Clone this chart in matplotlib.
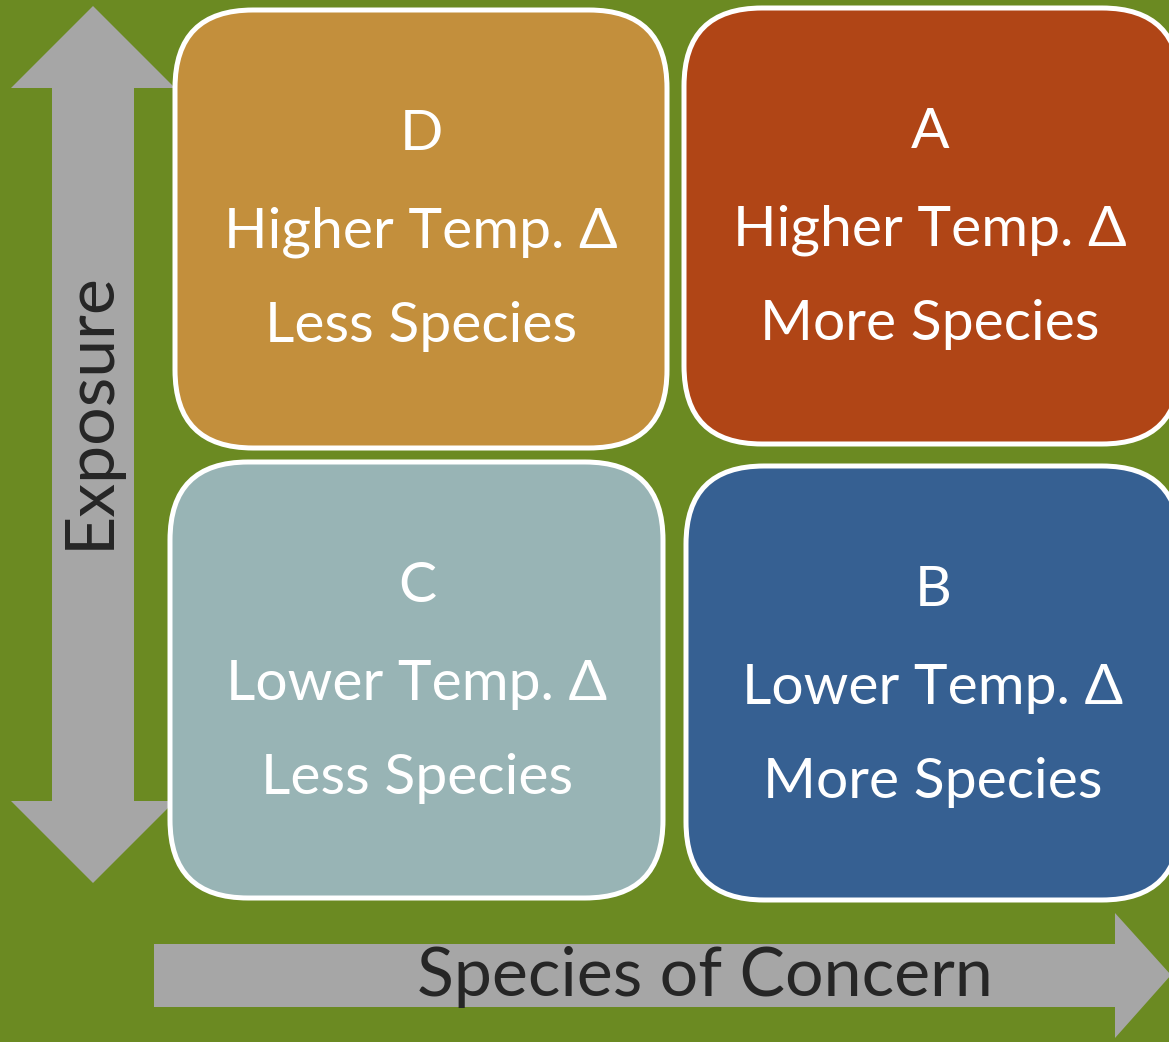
import matplotlib.pyplot as plt
from matplotlib.patches import FancyBboxPatch, Polygon

# quadrant data
letters = ['D', 'A', 'C', 'B']
temp_labels = ['Higher Temp. Δ', 'Higher Temp. Δ', 'Lower Temp. Δ', 'Lower Temp. Δ']
species_labels = ['Less Species', 'More Species', 'Less Species', 'More Species']
box_colors = ['#C38F3C', '#B04516', '#98B4B5', '#366092']
# box extents in pixels: x0, y0, x1, y1
box_x0 = [175, 684, 170, 686]
box_y0 = [10, 8, 462, 466]
box_x1 = [667, 1180, 663, 1180]
box_y1 = [448, 444, 898, 900]
# text centres
text_cx = [421, 930, 417, 933]

y_axis_label = 'Exposure'
x_axis_label = 'Species of Concern'

W, H = 1169, 1042
fig = plt.figure(figsize=(W / 100, H / 100), dpi=100)
fig.patch.set_facecolor('#6B8A22')
ax = fig.add_axes([0, 0, 1, 1])
ax.set_xlim(0, W)
ax.set_ylim(H, 0)
ax.axis('off')

gray = '#A6A6A6'
font = ['Lato', 'DejaVu Sans']

# vertical double arrow
vert = [(93, 6), (175, 88), (134, 88), (134, 801), (175, 801), (93, 883),
        (11, 801), (52, 801), (52, 88), (11, 88)]
ax.add_patch(Polygon(vert, closed=True, facecolor=gray, edgecolor='none', zorder=1))

# horizontal arrow
horiz = [(154, 944), (1115, 944), (1115, 913), (1171, 975), (1115, 1038),
         (1115, 1007), (154, 1007)]
ax.add_patch(Polygon(horiz, closed=True, facecolor=gray, edgecolor='none', zorder=1))

for i in range(4):
    x0, y0, x1, y1 = box_x0[i], box_y0[i], box_x1[i], box_y1[i]
    box = FancyBboxPatch((x0, y0), x1 - x0, y1 - y0,
                         boxstyle='round,pad=0,rounding_size=78',
                         facecolor=box_colors[i], edgecolor='white', linewidth=3.6, zorder=2)
    ax.add_patch(box)
    cx = text_cx[i]
    ax.text(cx, y0 + 125, letters[i], color='white', fontsize=41, ha='center', va='center',
            family=font, zorder=3)
    ax.text(cx, y0 + 222, temp_labels[i], color='white', fontsize=41, ha='center', va='center',
            family=font, zorder=3)
    ax.text(cx, y0 + 317, species_labels[i], color='white', fontsize=41, ha='center', va='center',
            family=font, zorder=3)

ax.text(90, 410, y_axis_label, color='#262626', fontsize=49, rotation=90,
        ha='center', va='center', family=font, zorder=3)
ax.text(705, 977, x_axis_label, color='#262626', fontsize=49,
        ha='center', va='center', family=font, zorder=3)

fig.savefig('out.png', dpi=100, facecolor=fig.get_facecolor())
